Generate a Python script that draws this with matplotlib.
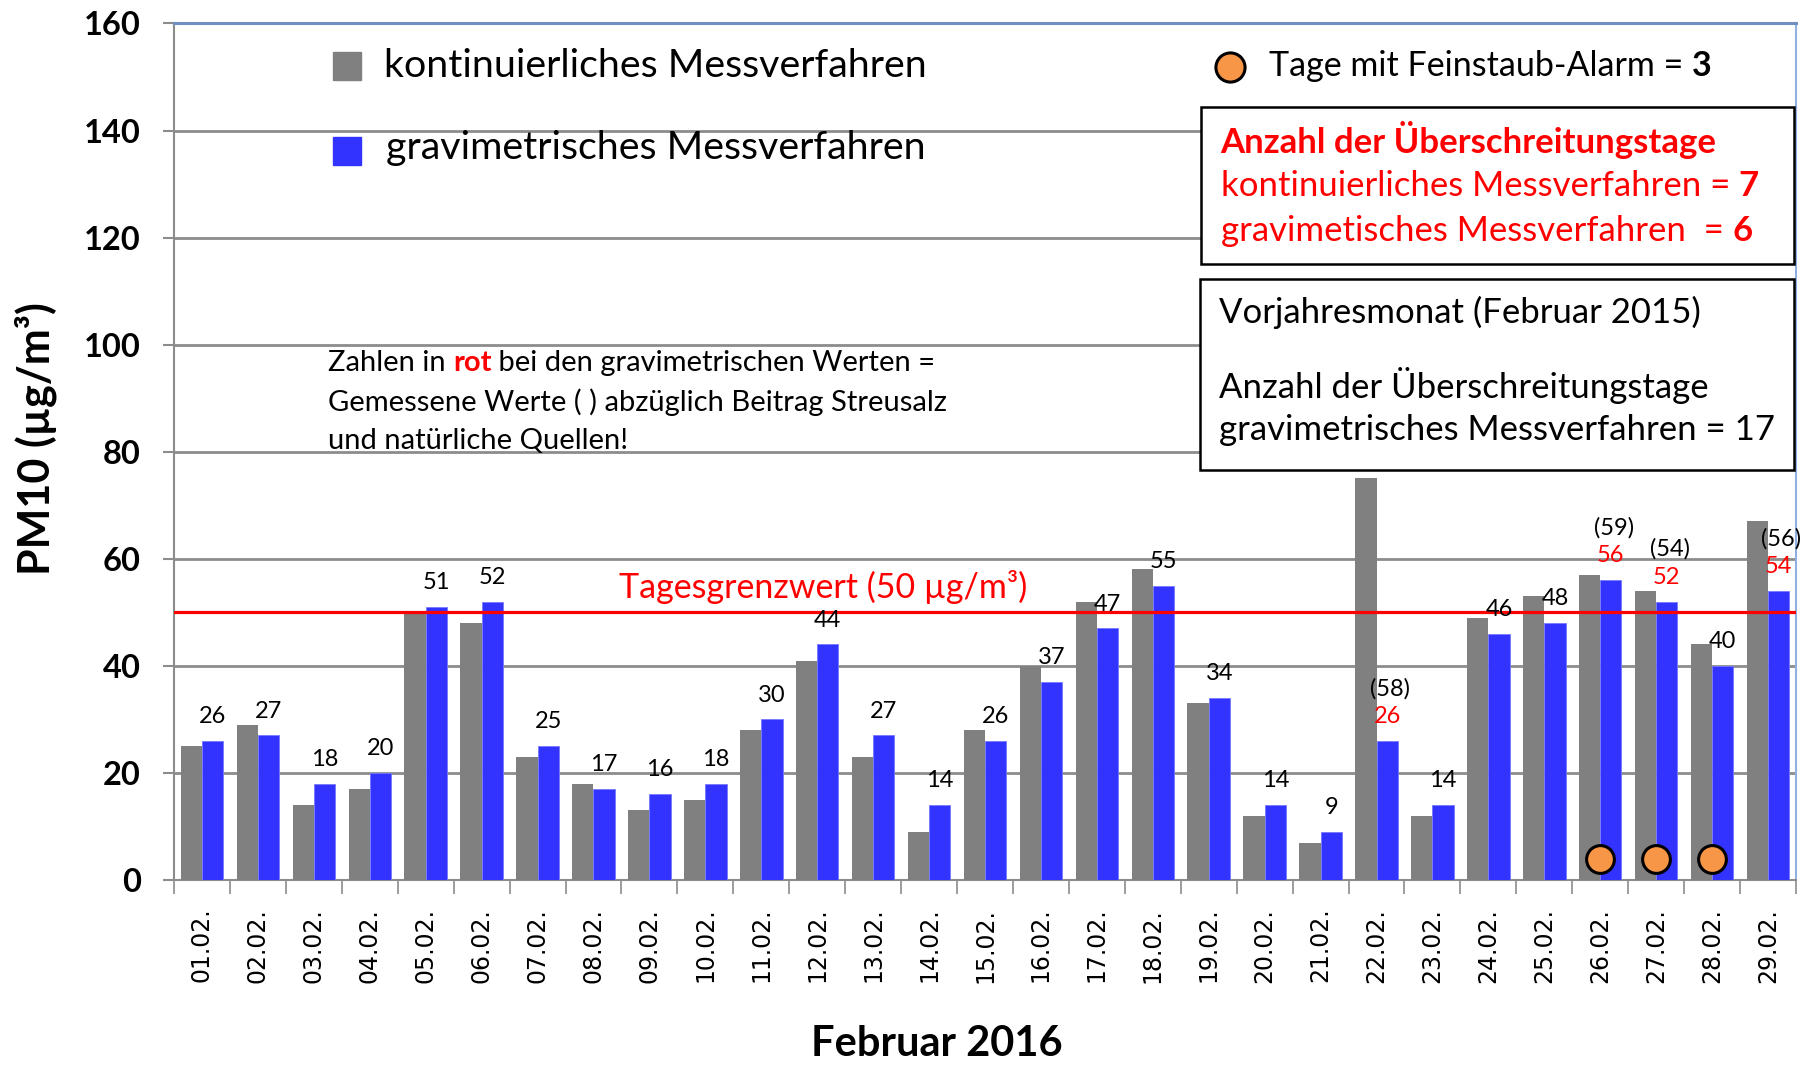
import numpy as np
import matplotlib
matplotlib.use("Agg")
import matplotlib.pyplot as plt
from matplotlib.patches import Rectangle
from matplotlib.text import Annotation

plt.rcParams['font.family'] = ['Lato', 'DejaVu Sans']

# --- Data ---
days = ["01.02.", "02.02.", "03.02.", "04.02.", "05.02.", "06.02.", "07.02.", "08.02.",
        "09.02.", "10.02.", "11.02.", "12.02.", "13.02.", "14.02.", "15.02.", "16.02.",
        "17.02.", "18.02.", "19.02.", "20.02.", "21.02.", "22.02.", "23.02.", "24.02.",
        "25.02.", "26.02.", "27.02.", "28.02.", "29.02."]
kontinuierlich = [25, 29, 14, 17, 50, 48, 23, 18, 13, 15, 28, 41, 23, 9, 28, 40,
                  52, 58, 33, 12, 7, 75, 12, 49, 53, 57, 54, 44, 67]
gravimetrisch = [26, 27, 18, 20, 51, 52, 25, 17, 16, 18, 30, 44, 27, 14, 26, 37,
                 47, 55, 34, 14, 9, 26, 14, 46, 48, 56, 52, 40, 54]
# measured gravimetric values before subtraction of road salt / natural sources
gemessen = {"22.02.": 58, "26.02.": 59, "27.02.": 54, "29.02.": 56}
alarm_days = ["26.02.", "27.02.", "28.02."]
grenzwert = 50

GREY = '#808080'
BLUE = '#3333ff'
ORANGE = '#f79646'

W, H = 1568, 923  # reference preview size, used to place overlay texts


def f(x, y):
    return x / W, 1 - y / H


fig = plt.figure(figsize=(18.09, 10.65), dpi=100)
ax = fig.add_axes([0.0962, 0.1737, 0.8966, 0.8043])

x = np.arange(len(days))
bw = 0.38
ax.bar(x - bw / 2, kontinuierlich, bw, color=GREY, zorder=3)
ax.bar(x + bw / 2, gravimetrisch, bw, color=BLUE, edgecolor='#7777ff', linewidth=0.6, zorder=3)

ax.axhline(grenzwert, color='red', lw=2.3, zorder=4)
ax.text(11.1, 54.7, "Tagesgrenzwert (50 µg/m³)", color='red', fontsize=24.5,
        ha='center', va='center', zorder=5)

# value labels
for i, d in enumerate(days):
    v = gravimetrisch[i]
    if d in gemessen:
        ax.annotate(str(v), (i + bw / 2, v), xytext=(0, 10), textcoords='offset points',
                    ha='center', va='bottom', fontsize=17, color='red', zorder=5)
        ax.annotate(f"({gemessen[d]})", (i + bw / 2, v), xytext=(2, 30),
                    textcoords='offset points', ha='center', va='bottom', fontsize=17,
                    color='black', zorder=5)
    else:
        ax.annotate(str(v), (i + bw / 2, v), xytext=(0, 10), textcoords='offset points',
                    ha='center', va='bottom', fontsize=17, zorder=5)

# alarm days
ai = [days.index(d) for d in alarm_days]
ax.plot(ai, [4] * len(ai), 'o', ms=20, mfc=ORANGE, mec='black', mew=2.2, ls='none',
        zorder=6, clip_on=False)

# axes styling
ax.set_xlim(-0.5, len(days) - 0.5)
ax.set_ylim(0, 160)
ax.set_yticks(np.arange(0, 161, 20))
ax.yaxis.grid(True, color='#8c8c8c', lw=2, zorder=0)
ax.tick_params(axis='y', labelsize=23.5, length=8, width=1.5, color='#8c8c8c', pad=16)
for lab in ax.get_yticklabels():
    lab.set_fontweight('bold')
ax.set_xticks(x)
ax.set_xticklabels(days, rotation=90, fontsize=17, family='DejaVu Sans')
ax.set_xticks(np.arange(-0.5, len(days)), minor=True)
ax.tick_params(axis='x', which='major', length=0, pad=20)
ax.tick_params(axis='x', which='minor', length=10, width=1.2, color='#8c8c8c')
ax.spines['left'].set_color('#8c8c8c')
ax.spines['bottom'].set_color('#8c8c8c')
ax.spines['left'].set_linewidth(1.5)
ax.spines['bottom'].set_linewidth(1.5)
ax.spines['top'].set_color('#6f8fc0')
ax.spines['top'].set_linewidth(2.2)
ax.spines['right'].set_color('#8fb0e0')
ax.spines['right'].set_linewidth(1.5)

fig.text(*f(31, 380), "PM10 (µg/m³)", rotation=90, fontsize=31, fontweight='bold',
         ha='center', va='center')
fig.text(*f(812, 905), "Februar 2016", fontsize=30, fontweight='bold', ha='center', va='center')


def chain_text(x0, y0, parts, size):
    t = fig.text(*f(x0, y0), parts[0][0], color=parts[0][1], fontweight=parts[0][2],
                 fontsize=size, va='center', ha='left', zorder=10)
    for s, c, w in parts[1:]:
        t = fig.add_artist(Annotation(s, xy=(1, 0), xycoords=t, va='bottom', ha='left',
                                      color=c, fontweight=w, fontsize=size,
                                      annotation_clip=False, zorder=10))
    return t


# legend
fig.patches.append(Rectangle(f(289, 69), 24 / W, 24 / H, transform=fig.transFigure,
                             color=GREY, figure=fig))
fig.patches.append(Rectangle(f(289, 143), 24 / W, 24 / H, transform=fig.transFigure,
                             color=BLUE, figure=fig))
fig.text(*f(333, 57), "kontinuierliches Messverfahren", fontsize=28.4, va='center')
fig.text(*f(335, 128), "gravimetrisches Messverfahren", fontsize=28.4, va='center')
ax.plot(*f(1066, 58), 'o', ms=21, mfc=ORANGE, mec='black', mew=2.2,
        transform=fig.transFigure, clip_on=False)
chain_text(1100, 57, [("Tage mit Feinstaub-Alarm = ", 'black', 'normal'),
                      ("3", 'black', 'bold')], 24.5)

# boxes
for (x0, y0, x1, y1) in [(1041, 93, 1555, 229), (1040, 242, 1555, 407)]:
    fx0, fy1 = f(x0, y0)
    fx1, fy0 = f(x1, y1)
    fig.patches.append(Rectangle((fx0, fy0), fx1 - fx0, fy1 - fy0, transform=fig.transFigure,
                                 facecolor='white', edgecolor='black', lw=1.8, figure=fig,
                                 zorder=2))

fig.text(*f(1058, 121), "Anzahl der Überschreitungstage", color='red', fontweight='bold',
         fontsize=25, va='center', zorder=10)
chain_text(1058, 161, [("kontinuierliches Messverfahren = ", 'red', 'normal'),
                       ("7", 'red', 'bold')], 25)
chain_text(1058, 200, [("gravimetisches Messverfahren  = ", 'red', 'normal'),
                       ("6", 'red', 'bold')], 25)
fig.text(*f(1057, 271), "Vorjahresmonat (Februar 2015)", fontsize=25, va='center', zorder=10)
fig.text(*f(1057, 334), "Anzahl der Überschreitungstage", fontsize=25, va='center', zorder=10)
fig.text(*f(1057, 373), "gravimetrisches Messverfahren = 17", fontsize=25, va='center',
         zorder=10)

# note
chain_text(284, 315, [("Zahlen in ", 'black', 'normal'), ("rot", 'red', 'bold'),
                      (" bei den gravimetrischen Werten =", 'black', 'normal')], 21)
fig.text(*f(284, 349), "Gemessene Werte ( ) abzüglich Beitrag Streusalz", fontsize=21,
         va='center')
fig.text(*f(284, 382), "und natürliche Quellen!", fontsize=21, va='center')

fig.savefig("out.png", dpi=100)
